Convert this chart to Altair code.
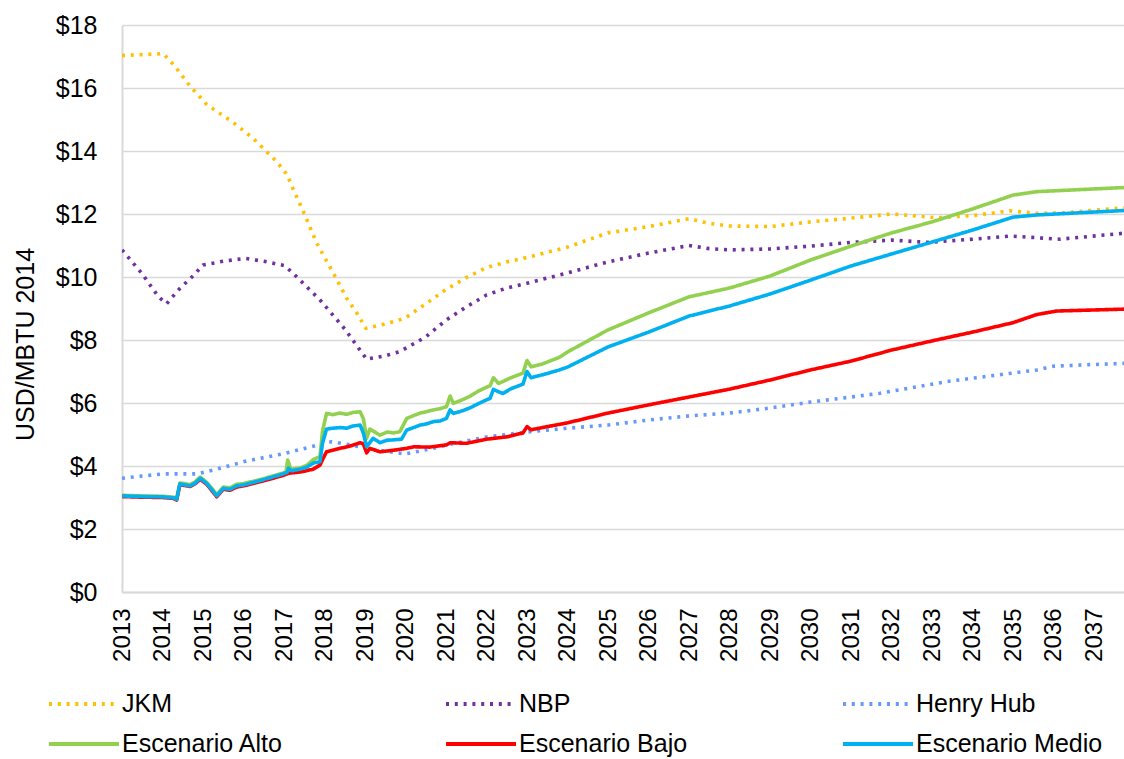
import altair as alt
import pandas as pd

SERIES = ["JKM", "NBP", "Henry Hub", "Escenario Alto", "Escenario Bajo", "Escenario Medio"]
COLORS = ["#FFC000", "#7030A0", "#6699FF", "#92D050", "#FF0000", "#00B0F0"]
YEARS = list(range(2013, 2038))
Y_TICKS = [0, 2, 4, 6, 8, 10, 12, 14, 16, 18]

JKM_T = [2013.0, 2013.5, 2014.02, 2014.3, 2014.68, 2015.09, 2015.75, 2016.24, 2016.82, 2017.07, 2017.23,
         2017.48, 2017.81, 2018.22, 2018.55, 2018.8, 2019.02, 2019.4, 2019.78, 2020.0, 2020.5, 2021.0,
         2021.5, 2022.0, 2022.5, 2023.0, 2024.0, 2025.0, 2026.0, 2027.0, 2027.5, 2028.0, 2029.0, 2030.0,
         2031.0, 2032.0, 2033.12, 2034.0, 2034.93, 2035.59, 2036.32, 2037.74]
JKM_V = [17.03, 17.06, 17.09, 16.7, 16.06, 15.48, 14.9, 14.4, 13.66, 13.26, 12.78,
         12.07, 11.07, 10.12, 9.32, 8.85, 8.37, 8.48, 8.61, 8.7, 9.15, 9.6,
         9.98, 10.3, 10.48, 10.62, 10.95, 11.4, 11.6, 11.85, 11.7, 11.62, 11.6, 11.75,
         11.87, 12.0, 11.88, 11.95, 12.1, 12.02, 12.04, 12.2]

NBP_T = [2013.0, 2013.5, 2013.9, 2014.1, 2014.43, 2014.75, 2015.0, 2015.5, 2016.04, 2016.5, 2017.02,
         2017.31, 2017.89, 2018.5, 2019.04, 2019.5, 2019.86, 2020.5, 2021.0, 2021.5, 2022.0, 2022.5,
         2023.0, 2024.0, 2025.0, 2026.0, 2027.0, 2027.5, 2028.0, 2029.0, 2030.0, 2031.0, 2032.0,
         2032.91, 2034.0, 2034.93, 2036.16, 2037.74]
NBP_V = [10.86, 10.1, 9.37, 9.15, 9.64, 10.03, 10.38, 10.5, 10.59, 10.5, 10.36,
         10.01, 9.27, 8.35, 7.39, 7.5, 7.63, 8.1, 8.63, 9.05, 9.43, 9.65,
         9.8, 10.13, 10.48, 10.76, 11.0, 10.9, 10.86, 10.89, 10.98, 11.1, 11.17,
         11.1, 11.2, 11.3, 11.2, 11.39]

HH_T = [2013.0, 2013.5, 2014.02, 2014.84, 2015.25, 2016.08, 2017.02, 2018.01, 2018.18, 2018.63, 2019.04,
        2019.99, 2020.68, 2021.1, 2022.0, 2023.0, 2024.0, 2025.0, 2026.0, 2027.0, 2028.0, 2029.0,
        2030.0, 2031.0, 2031.72, 2033.36, 2035.59, 2036.0, 2037.74]
HH_V = [3.61, 3.68, 3.75, 3.75, 3.87, 4.16, 4.40, 4.72, 4.77, 4.67, 4.56,
        4.38, 4.56, 4.69, 4.92, 5.08, 5.2, 5.3, 5.46, 5.59, 5.68, 5.84,
        6.03, 6.19, 6.31, 6.68, 7.05, 7.17, 7.26]

ALTO_T = [2013.0, 2013.5, 2014.0, 2014.27, 2014.35, 2014.43, 2014.55, 2014.68, 2014.8, 2014.93, 2015.09,
          2015.25, 2015.34, 2015.5, 2015.67, 2015.83, 2016.0, 2016.5, 2016.98, 2017.05, 2017.09, 2017.17,
          2017.4, 2017.56, 2017.72, 2017.89, 2017.95, 2018.05, 2018.2, 2018.38, 2018.55, 2018.7, 2018.88,
          2018.96, 2019.04, 2019.12, 2019.37, 2019.55, 2019.7, 2019.86, 2020.03, 2020.2, 2020.36, 2020.5,
          2020.69, 2020.85, 2021.01, 2021.1, 2021.18, 2021.4, 2021.6, 2021.8, 2022.0, 2022.09, 2022.17,
          2022.3, 2022.6, 2022.9, 2023.0, 2023.1, 2023.4, 2023.8, 2024.0, 2025.0, 2026.0, 2027.0, 2028.0,
          2029.0, 2030.0, 2031.0, 2032.0, 2033.0, 2034.0, 2035.0, 2035.59, 2037.74]
ALTO_V = [3.07, 3.05, 3.04, 3.01, 2.96, 3.46, 3.44, 3.41, 3.49, 3.65, 3.48,
          3.24, 3.09, 3.33, 3.31, 3.42, 3.44, 3.6, 3.78, 3.82, 4.19, 3.9,
          3.94, 4.02, 4.2, 4.3, 5.1, 5.67, 5.63, 5.68, 5.64, 5.7, 5.72,
          5.5, 4.88, 5.17, 4.98, 5.08, 5.05, 5.09, 5.51, 5.6, 5.68, 5.72,
          5.78, 5.82, 5.88, 6.22, 5.99, 6.1, 6.22, 6.38, 6.5, 6.55, 6.8,
          6.62, 6.8, 6.95, 7.35, 7.15, 7.25, 7.45, 7.62, 8.32, 8.86, 9.37, 9.65,
          10.03, 10.54, 10.98, 11.4, 11.75, 12.16, 12.6, 12.71, 12.84]

BAJO_T = [2013.0, 2013.5, 2014.0, 2014.27, 2014.35, 2014.43, 2014.55, 2014.68, 2014.8, 2014.93, 2015.09,
          2015.25, 2015.34, 2015.5, 2015.67, 2015.83, 2016.0, 2016.5, 2016.98, 2017.11, 2017.4, 2017.56,
          2017.72, 2017.89, 2017.95, 2018.05, 2018.38, 2018.6, 2018.88, 2018.96, 2019.04, 2019.12, 2019.37,
          2019.7, 2020.03, 2020.2, 2020.6, 2021.01, 2021.1, 2021.5, 2022.0, 2022.53, 2022.9, 2023.0,
          2023.1, 2023.5, 2024.0, 2025.0, 2026.0, 2027.0, 2028.0, 2029.0, 2030.0, 2031.0, 2032.0,
          2033.03, 2034.0, 2035.0, 2035.59, 2036.08, 2037.74]
BAJO_V = [3.03, 3.01, 3.0, 2.97, 2.92, 3.41, 3.38, 3.35, 3.43, 3.58, 3.42,
          3.17, 3.02, 3.26, 3.23, 3.33, 3.37, 3.53, 3.7, 3.77, 3.81, 3.85,
          3.9, 4.03, 4.2, 4.45, 4.56, 4.62, 4.74, 4.7, 4.42, 4.56, 4.45,
          4.5, 4.56, 4.61, 4.6, 4.67, 4.74, 4.72, 4.85, 4.93, 5.05, 5.25,
          5.15, 5.25, 5.37, 5.68, 5.94, 6.19, 6.44, 6.73, 7.05, 7.33, 7.68,
          7.98, 8.25, 8.55, 8.81, 8.92, 8.98]

MEDIO_T = [2013.0, 2013.5, 2014.0, 2014.27, 2014.35, 2014.43, 2014.55, 2014.68, 2014.8, 2014.93, 2015.09,
           2015.25, 2015.34, 2015.5, 2015.67, 2015.83, 2016.0, 2016.5, 2016.98, 2017.08, 2017.11, 2017.19,
           2017.4, 2017.56, 2017.72, 2017.89, 2017.95, 2018.05, 2018.2, 2018.38, 2018.55, 2018.7, 2018.88,
           2018.96, 2019.04, 2019.2, 2019.37, 2019.55, 2019.7, 2019.9, 2020.03, 2020.2, 2020.36, 2020.5,
           2020.69, 2020.85, 2021.01, 2021.1, 2021.18, 2021.4, 2021.6, 2021.8, 2022.0, 2022.09, 2022.17,
           2022.4, 2022.6, 2022.9, 2023.0, 2023.1, 2023.4, 2023.8, 2024.0, 2025.0, 2026.0, 2027.0, 2028.0,
           2029.0, 2030.0, 2031.0, 2032.0, 2033.0, 2034.0, 2035.0, 2035.59, 2037.74]
MEDIO_V = [3.05, 3.03, 3.02, 2.99, 2.94, 3.43, 3.40, 3.37, 3.45, 3.61, 3.45,
           3.2, 3.05, 3.29, 3.26, 3.37, 3.40, 3.57, 3.75, 3.8, 3.93, 3.85,
           3.9, 3.96, 4.09, 4.14, 4.72, 5.17, 5.2, 5.22, 5.2, 5.27, 5.30,
           5.04, 4.61, 4.88, 4.74, 4.82, 4.83, 4.85, 5.14, 5.22, 5.30, 5.33,
           5.41, 5.43, 5.51, 5.78, 5.67, 5.75, 5.85, 5.98, 6.1, 6.15, 6.43,
           6.3, 6.45, 6.6, 7.0, 6.8, 6.9, 7.05, 7.14, 7.78, 8.25, 8.76, 9.08,
           9.46, 9.9, 10.35, 10.73, 11.11, 11.49, 11.9, 11.97, 12.11]

rows = []
for name, ts, vs in [("JKM", JKM_T, JKM_V), ("NBP", NBP_T, NBP_V), ("Henry Hub", HH_T, HH_V),
                     ("Escenario Alto", ALTO_T, ALTO_V), ("Escenario Bajo", BAJO_T, BAJO_V),
                     ("Escenario Medio", MEDIO_T, MEDIO_V)]:
    for t, v in zip(ts, vs):
        rows.append({"t": t, "v": v, "serie": name})
df = pd.DataFrame(rows)

FONT = "Liberation Sans"
DASHES = [[3, 5.8], [3, 5.8], [3, 5.8], [1, 0], [1, 0], [1, 0]]

legend = alt.Legend(
    title=None, orient="none", legendX=-75, legendY=664, columns=3, direction="horizontal",
    symbolType="stroke", symbolSize=4900, symbolStrokeWidth=4, labelFontSize=25, labelFont=FONT,
    labelColor="#000000", labelOffset=1, labelLimit=400, columnPadding=135, rowPadding=10,
    clipHeight=30, gridAlign="all", padding=0,
)

chart = alt.Chart(df).mark_line(strokeWidth=3.6, strokeCap="butt", strokeJoin="round", clip=True).encode(
    x=alt.X("t:Q", scale=alt.Scale(domain=[2013, 2037.74], nice=False, zero=False),
            axis=alt.Axis(values=YEARS, format="d", labelAngle=-90, title=None, grid=False, ticks=False,
                          tickSize=0, labelPadding=16, domainColor="#D9D9D9", domainWidth=2,
                          labelFontSize=24, labelFont=FONT, labelColor="#000000", labelOverlap=False)),
    y=alt.Y("v:Q", scale=alt.Scale(domain=[0, 18], nice=False),
            axis=alt.Axis(values=Y_TICKS, labelExpr="'$' + datum.value", title="USD/MBTU 2014",
                          ticks=False, tickSize=0, labelPadding=25, labelFontSize=25, labelFont=FONT,
                          labelColor="#000000", domainColor="#D9D9D9", domainWidth=2,
                          gridColor="#D9D9D9", gridWidth=1.4, titleFont=FONT, titleFontSize=25,
                          titleFontWeight="normal", titleColor="#000000", titleAngle=270,
                          titleX=-89, titleY=319, titleAlign="center", titleBaseline="alphabetic")),
    color=alt.Color("serie:N", scale=alt.Scale(domain=SERIES, range=COLORS), legend=legend),
    strokeDash=alt.StrokeDash("serie:N", scale=alt.Scale(domain=SERIES, range=DASHES), legend=legend),
).properties(
    width=1002, height=567,
    autosize=alt.AutoSizeParams(type="none"),
    padding={"left": 122, "top": 25, "right": 0, "bottom": 167},
    background="white",
).configure_view(stroke=None)

chart.save("out.html", embed_options={"renderer": "svg", "actions": False})
